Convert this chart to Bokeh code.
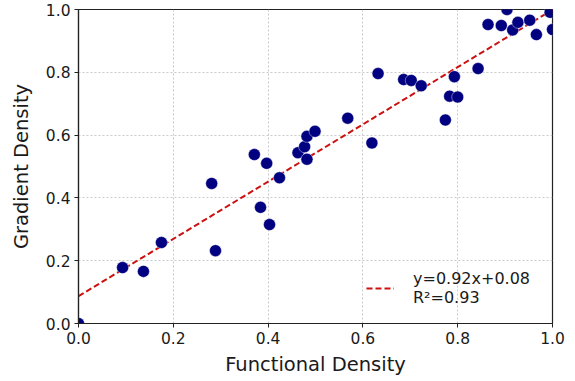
from bokeh.plotting import figure
from bokeh.models import Range1d, FixedTicker, Legend, LegendItem
from bokeh.embed import file_html
from bokeh.resources import INLINE

# Data
functional = [0.000, 0.093, 0.137, 0.175, 0.281, 0.289, 0.371, 0.384, 0.397, 0.403,
              0.424, 0.463, 0.477, 0.482, 0.482, 0.499, 0.568, 0.619, 0.632, 0.686,
              0.702, 0.723, 0.774, 0.783, 0.793, 0.800, 0.843, 0.864, 0.892, 0.904,
              0.916, 0.927, 0.952, 0.966, 0.995, 1.000]
gradient = [0.000, 0.178, 0.166, 0.258, 0.446, 0.232, 0.538, 0.370, 0.510, 0.315,
            0.464, 0.544, 0.563, 0.596, 0.523, 0.612, 0.654, 0.575, 0.796, 0.777,
            0.774, 0.757, 0.648, 0.724, 0.786, 0.721, 0.812, 0.952, 0.949, 1.000,
            0.935, 0.959, 0.966, 0.920, 0.991, 0.936]

fit_slope = 0.912
fit_intercept = 0.087
fit_x = [0.0, 1.0]
fit_label = "y=0.92x+0.08\nR\u00b2=0.93"

tick_values = [0.0, 0.2, 0.4, 0.6, 0.8, 1.0]
x_label = "Functional Density"
y_label = "Gradient Density"

FONT = "DejaVu Sans"
TXT = "#1a1a1a"

p = figure(width=575, height=381, output_backend="svg", toolbar_location=None,
           x_range=Range1d(0, 1), y_range=Range1d(0, 1),
           min_border_left=78, min_border_right=23, min_border_top=9, min_border_bottom=58)
p.background_fill_color = "white"
p.border_fill_color = "white"
p.outline_line_color = "#222222"
p.outline_line_width = 1.2

for ax in (p.xaxis[0], p.yaxis[0]):
    ax.ticker = FixedTicker(ticks=tick_values)
    ax.major_label_overrides = {t: f"{t:.1f}" for t in tick_values}
    ax.minor_tick_line_color = None
    ax.major_tick_out = 4
    ax.major_tick_in = 0
    ax.major_tick_line_color = "#222222"
    ax.axis_line_color = "#222222"
    ax.axis_line_width = 1.2
    ax.major_label_text_font = FONT
    ax.major_label_text_font_size = "15.5px"
    ax.major_label_text_color = TXT
    ax.axis_label_text_font = FONT
    ax.axis_label_text_font_size = "19.5px"
    ax.axis_label_text_font_style = "normal"
    ax.axis_label_text_color = TXT
    ax.major_label_standoff = 4

p.xaxis.axis_label = x_label
p.yaxis.axis_label = y_label
p.xaxis.axis_label_standoff = 6
p.yaxis.axis_label_standoff = 10

for g in (p.xgrid[0], p.ygrid[0]):
    g.ticker = FixedTicker(ticks=tick_values)
    g.grid_line_color = "#bdbdbd"
    g.grid_line_dash = "2 2"
    g.grid_line_width = 0.8

fit_y = [fit_slope * x + fit_intercept for x in fit_x]
fit_r = p.line(fit_x, fit_y, line_color="#cc1111", line_width=2, line_dash="6 3")

p.scatter(functional, gradient, size=12, fill_color="#000080", line_color="white",
          line_width=0.6, line_alpha=0.7)

legend = Legend(items=[LegendItem(label=fit_label, renderers=[fit_r])],
                location=(288, 16), border_line_color=None, background_fill_alpha=0,
                padding=0, margin=0, glyph_width=28, label_standoff=19,
                label_text_font=FONT, label_text_font_size="16px", label_text_color=TXT,
                label_text_line_height=1.05)
p.add_layout(legend, "center")

open("out.html", "w").write(file_html(p, INLINE))
